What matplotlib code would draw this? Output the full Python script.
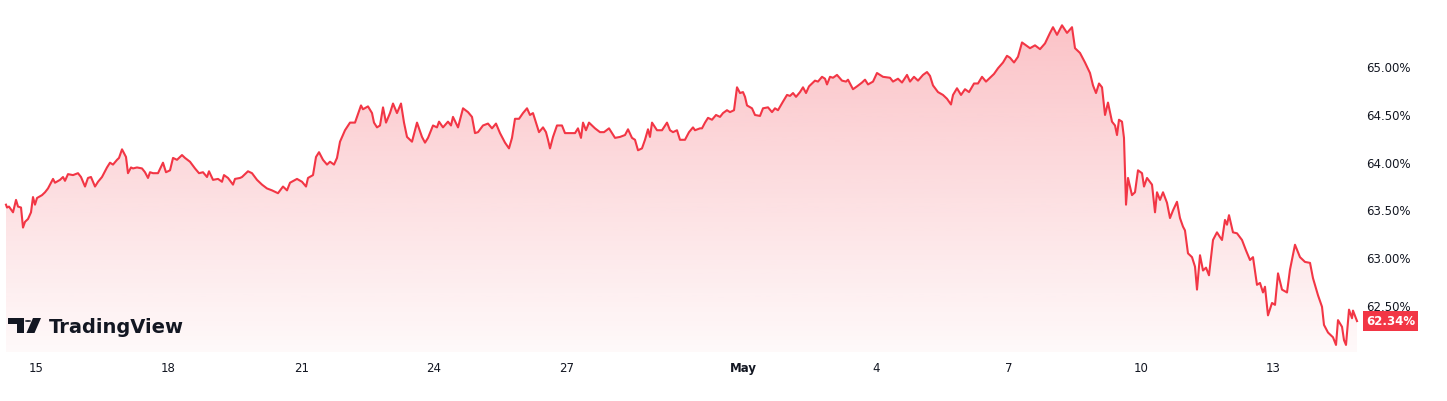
import numpy as np
import matplotlib
matplotlib.use('Agg')
import matplotlib.pyplot as plt
import matplotlib.colors as mcolors
import matplotlib.transforms as mtransforms
from matplotlib.patches import Polygon, Rectangle, Circle

# Days since 15 April (fractional), and dominance values in %
days = [
    -0.679, -0.656, -0.611, -0.520, -0.452, -0.407, -0.339, -0.294, -0.249, -0.181,
    -0.113, -0.068, -0.023, 0.023, 0.136, 0.204, 0.271, 0.385, 0.430, 0.543,
    0.611, 0.656, 0.724, 0.837, 0.950, 1.018, 1.109, 1.176, 1.244, 1.335,
    1.403, 1.493, 1.606, 1.674, 1.742, 1.833, 1.878, 1.946, 2.036, 2.081,
    2.149, 2.195, 2.285, 2.398, 2.466, 2.534, 2.579, 2.647, 2.760, 2.873,
    2.941, 3.032, 3.100, 3.190, 3.303, 3.371, 3.484, 3.597, 3.688, 3.778,
    3.869, 3.914, 4.005, 4.118, 4.208, 4.253, 4.344, 4.457, 4.502, 4.615,
    4.661, 4.796, 4.887, 5.000, 5.113, 5.226, 5.339, 5.475, 5.588, 5.679,
    5.747, 5.905, 6.018, 6.109, 6.154, 6.267, 6.335, 6.403, 6.493, 6.584,
    6.652, 6.742, 6.810, 6.878, 6.991, 7.104, 7.217, 7.353, 7.398, 7.511,
    7.602, 7.647, 7.715, 7.783, 7.851, 7.919, 8.009, 8.077, 8.167, 8.258,
    8.326, 8.394, 8.507, 8.620, 8.733, 8.801, 8.869, 8.982, 9.072, 9.118,
    9.208, 9.321, 9.389, 9.434, 9.548, 9.661, 9.774,
    9.864, 9.932, 10.000, 10.113, 10.226, 10.317, 10.407, 10.498, 10.611, 10.701,
    10.769, 10.837, 10.928, 11.018, 11.109, 11.176, 11.244, 11.380, 11.471, 11.538,
    11.584, 11.629, 11.697, 11.787, 11.900, 11.968, 12.081, 12.195, 12.262, 12.330,
    12.376, 12.443, 12.511, 12.647, 12.760, 12.851, 12.964, 13.100, 13.213, 13.326,
    13.394, 13.484, 13.552, 13.620, 13.710, 13.778, 13.846, 13.891, 13.937, 14.050,
    14.163, 14.276, 14.344, 14.412, 14.502, 14.570, 14.683, 14.774, 14.864, 14.910,
    15.023,
    15.068, 15.136, 15.204, 15.294, 15.385, 15.475, 15.543, 15.633, 15.701, 15.792,
    15.860, 15.928, 15.995, 16.041, 16.086, 16.199, 16.267, 16.380, 16.448, 16.561,
    16.652, 16.719, 16.787, 16.900, 16.991, 17.059, 17.127, 17.195, 17.285, 17.353,
    17.421, 17.489, 17.624, 17.692, 17.783, 17.851, 17.896, 17.964, 18.032, 18.122,
    18.235, 18.326, 18.371, 18.484, 18.575, 18.688, 18.756, 18.824, 18.937, 19.027,
    19.095, 19.163, 19.321, 19.389, 19.502, 19.593, 19.706, 19.774, 19.864, 19.955,
    20.068, 20.158, 20.226,
    20.294, 20.407, 20.520, 20.611, 20.701, 20.747, 20.837, 20.928, 21.018, 21.109,
    21.222, 21.312, 21.403, 21.493, 21.584, 21.674, 21.765, 21.878, 21.968, 22.036,
    22.127, 22.217, 22.308, 22.398, 22.489, 22.602, 22.715, 22.828, 22.941, 23.009,
    23.100, 23.213, 23.326, 23.439, 23.507, 23.620, 23.733, 23.846, 23.914, 23.982,
    24.050, 24.118, 24.186, 24.253, 24.344, 24.412, 24.457, 24.502, 24.570, 24.615,
    24.661, 24.706, 24.796, 24.864, 24.932, 25.023, 25.068, 25.136, 25.249, 25.317,
    25.362, 25.430, 25.498, 25.588, 25.656, 25.724, 25.814, 25.882, 25.950, 25.995,
    26.063, 26.154, 26.222, 26.267, 26.335, 26.403, 26.471, 26.538, 26.629, 26.719,
    26.787, 26.833, 26.900, 26.946, 26.991, 27.081, 27.172, 27.285, 27.376, 27.466,
    27.534, 27.624, 27.692, 27.760, 27.805, 27.873, 27.964, 28.032, 28.100, 28.190,
    28.303, 28.371, 28.484, 28.597, 28.710, 28.824, 28.891, 29.005, 29.095, 29.140,
    29.231, 29.344, 29.412, 29.457, 29.548, 29.593, 29.638, 29.706, 29.774, 29.796,
    29.887,
]

values = [
    63.56, 63.53, 63.54, 63.48, 63.61, 63.54, 63.53, 63.32, 63.38, 63.41,
    63.48, 63.64, 63.56, 63.63, 63.66, 63.69, 63.73, 63.83, 63.79, 63.82,
    63.85, 63.81, 63.88, 63.87, 63.89, 63.85, 63.75, 63.84, 63.85, 63.75,
    63.80, 63.85, 63.95, 64.00, 63.98, 64.03, 64.05, 64.14, 64.06, 63.89,
    63.95, 63.94, 63.95, 63.94, 63.90, 63.84, 63.90, 63.89, 63.89, 64.00,
    63.90, 63.92, 64.05, 64.03, 64.08, 64.05, 64.01, 63.94, 63.89, 63.90,
    63.85, 63.91, 63.82, 63.83, 63.80, 63.87, 63.84, 63.77, 63.83, 63.84,
    63.85, 63.91, 63.89, 63.82, 63.77, 63.73, 63.71, 63.68, 63.75, 63.71,
    63.79, 63.83, 63.80, 63.75, 63.84, 63.87, 64.06, 64.11, 64.03, 63.98,
    64.01, 63.98, 64.05, 64.22, 64.34, 64.42, 64.42, 64.60, 64.56, 64.59,
    64.52, 64.42, 64.37, 64.39, 64.58, 64.42, 64.52, 64.62, 64.52, 64.62,
    64.42, 64.27, 64.22, 64.42, 64.27, 64.21, 64.26, 64.39, 64.37, 64.43,
    64.37, 64.43, 64.39, 64.48, 64.37, 64.57, 64.53,
    64.48, 64.31, 64.32, 64.39, 64.41, 64.36, 64.41, 64.31, 64.21, 64.15,
    64.26, 64.46, 64.46, 64.52, 64.57, 64.50, 64.52, 64.32, 64.37, 64.32,
    64.24, 64.15, 64.27, 64.39, 64.39, 64.31, 64.31, 64.31, 64.36, 64.26,
    64.42, 64.34, 64.42, 64.36, 64.32, 64.32, 64.36, 64.26, 64.27, 64.29,
    64.35, 64.26, 64.24, 64.13, 64.15, 64.24, 64.35, 64.27, 64.42, 64.34,
    64.34, 64.42, 64.34, 64.32, 64.34, 64.24, 64.24, 64.32, 64.37, 64.34,
    64.36,
    64.36, 64.42, 64.47, 64.45, 64.50, 64.48, 64.52, 64.55, 64.53, 64.55,
    64.79, 64.73, 64.74, 64.69, 64.60, 64.57, 64.50, 64.49, 64.57, 64.58,
    64.53, 64.57, 64.55, 64.64, 64.71, 64.70, 64.73, 64.69, 64.74, 64.79,
    64.73, 64.80, 64.86, 64.85, 64.90, 64.88, 64.82, 64.90, 64.89, 64.92,
    64.86, 64.85, 64.87, 64.77, 64.80, 64.84, 64.87, 64.82, 64.85, 64.94,
    64.92, 64.90, 64.89, 64.85, 64.88, 64.84, 64.92, 64.85, 64.90, 64.86,
    64.92, 64.95, 64.91,
    64.81, 64.74, 64.71, 64.67, 64.61, 64.71, 64.78, 64.71, 64.77, 64.74,
    64.83, 64.83, 64.90, 64.85, 64.89, 64.93, 64.99, 65.05, 65.12, 65.10,
    65.05, 65.11, 65.26, 65.23, 65.20, 65.23, 65.19, 65.25, 65.36, 65.42,
    65.34, 65.44, 65.36, 65.42, 65.20, 65.15, 65.05, 64.94, 64.81, 64.73,
    64.83, 64.79, 64.50, 64.63, 64.43, 64.39, 64.29, 64.45, 64.43, 64.26,
    63.56, 63.84, 63.66, 63.69, 63.92, 63.89, 63.75, 63.84, 63.77, 63.48,
    63.69, 63.61, 63.69, 63.58, 63.42, 63.50, 63.59, 63.42, 63.33, 63.29,
    63.05, 63.01, 62.91, 62.67, 63.03, 62.87, 62.90, 62.82, 63.19, 63.27,
    63.22, 63.19, 63.40, 63.35, 63.45, 63.27, 63.26, 63.19, 63.08, 62.98,
    63.01, 62.72, 62.74, 62.64, 62.70, 62.40, 62.53, 62.51, 62.84, 62.67,
    62.64, 62.88, 63.14, 63.01, 62.96, 62.95, 62.79, 62.61, 62.49, 62.30,
    62.22, 62.17, 62.09, 62.35, 62.28, 62.14, 62.09, 62.46, 62.37, 62.45,
    62.34,
]

tick_days = [0, 3, 6, 9, 12, 16, 19, 22, 25, 28]
tick_labels = ['15', '18', '21', '24', '27', 'May', '4', '7', '10', '13']
y_ticks = [62.5, 63.0, 63.5, 64.0, 64.5, 65.0]
last_value = 62.34

assert len(days) == len(values)

W, H = 1447, 401
LINE = '#F23645'
TEXT = '#131722'

fig = plt.figure(figsize=(W / 100, H / 100), dpi=100)
fig.patch.set_facecolor('white')
ax = fig.add_axes([0, 49 / H, 1362 / W, 352 / H])
ax.set_facecolor('white')

YMIN, YMAX = 62.016, 65.705
XMIN, XMAX = -0.8145, 30.0

x = np.array(days)
y = np.array(values)

# gradient area
poly = Polygon(np.column_stack([np.r_[x[0], x, x[-1]], np.r_[YMIN, y, YMIN]]),
               closed=True, facecolor='none', edgecolor='none')
ax.add_patch(poly)
n = 256
g = np.linspace(1, 0, n).reshape(-1, 1)
rgba = np.zeros((n, 1, 4))
rgba[..., :3] = mcolors.to_rgb(LINE)
rgba[..., 3] = 0.03 + 0.27 * g
im = ax.imshow(rgba, extent=[x[0], x[-1], YMIN, y.max()], aspect='auto',
               origin='upper', zorder=1, interpolation='bilinear')
im.set_clip_path(poly)

ax.plot(x, y, color=LINE, lw=1.5, zorder=2, solid_joinstyle='round')

ax.set_xlim(XMIN, XMAX)
ax.set_ylim(YMIN, YMAX)

for s in ax.spines.values():
    s.set_visible(False)

ax.yaxis.tick_right()
ax.set_yticks(y_ticks)
ax.set_yticklabels([f'{v:.2f}%' for v in y_ticks])
ax.set_xticks(tick_days)
ax.set_xticklabels(tick_labels)
for lbl in ax.get_xticklabels():
    if lbl.get_text() == 'May':
        lbl.set_fontweight('bold')
ax.tick_params(axis='y', length=0, pad=3, labelsize=8.5, labelcolor=TEXT)
ax.tick_params(axis='x', length=0, pad=7, labelsize=8.5, labelcolor=TEXT)

# last value label
trans = mtransforms.blended_transform_factory(ax.transAxes, ax.transData)
ax.text(1.0 + 4 / 1362, last_value, f'{last_value:.2f}%', transform=trans,
        ha='left', va='center', color='white', fontsize=8.5, fontweight='bold',
        bbox=dict(boxstyle='square,pad=0.28', fc=LINE, ec='none'), zorder=5,
        clip_on=False)

# TradingView logo
def fx(px):
    return px / W

def fy(py):
    return 1 - py / H

logo_c = TEXT
fig.patches.append(Rectangle((fx(8), fy(324)), fx(24) - fx(8), fy(318) - fy(324),
                             transform=fig.transFigure, fc=logo_c, ec='none'))
fig.patches.append(Rectangle((fx(17), fy(333)), fx(24) - fx(17), fy(318) - fy(333),
                             transform=fig.transFigure, fc=logo_c, ec='none'))
fig.patches.append(Circle((fx(28), fy(321)), 3.2 / W,
                          transform=fig.transFigure, fc=logo_c, ec='none'))
fig.patches.append(Polygon([(fx(33), fy(318)), (fx(41), fy(318)),
                            (fx(34.5), fy(333)), (fx(26.5), fy(333))],
                           closed=True, transform=fig.transFigure, fc=logo_c, ec='none'))
fig.text(fx(49), fy(333), 'TradingView', fontsize=14, fontweight='bold',
         color=logo_c, ha='left', va='baseline')

fig.savefig('out.png', dpi=100, facecolor='white')
